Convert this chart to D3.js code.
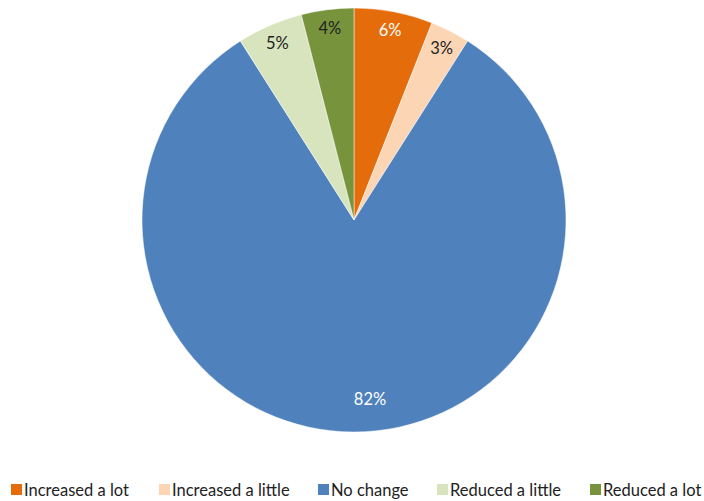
<!DOCTYPE html>
<html>
<head>
<meta charset="utf-8">
<script src="https://cdn.jsdelivr.net/npm/d3@7"></script>
<style>
  body { margin: 0; background: #fff; }
  text { font-family: Lato, "Open Sans", sans-serif; }
</style>
</head>
<body>
<div id="chart"></div>
<script>
// slice data, clockwise from 12 o'clock
const categories = ["Increased a lot", "Increased a little", "No change", "Reduced a little", "Reduced a lot"]
const values = [6, 3, 82, 5, 4]
const colors = ["#E46C0A", "#FCD5B5", "#4F81BD", "#D7E4BD", "#77933C"]
const labelColors = ["#fff", "#222", "#fff", "#222", "#222"]

const width = 704, height = 501
const cx = 354, cy = 220, radius = 212

let svg = d3.select("#chart").append("svg")
    .attr("width", width)
    .attr("height", height)

let pie = d3.pie().sort(null).value(d => d)
let arcs = pie(values)

let arc = d3.arc().innerRadius(0).outerRadius(radius)
let labelArc = d3.arc().innerRadius(193).outerRadius(193)

let g = svg.append("g").attr("transform", `translate(${cx},${cy})`)

g.selectAll("path.slice")
    .data(arcs)
    .join("path")
    .attr("class", "slice")
    .attr("d", arc)
    .attr("fill", (d, i) => colors[i])
    .attr("stroke", "#fff")
    .attr("stroke-width", 0.5)

g.selectAll("text.lbl")
    .data(arcs)
    .join("text")
    .attr("class", "lbl")
    .attr("transform", d => {
        let [x, y] = labelArc.centroid(d)
        // the big slice label sits a little right/up, like the original
        if (d.value > 50) { x += 16; y -= 14 }
        return `translate(${x},${y})`
    })
    .attr("text-anchor", "middle")
    .attr("dy", "0.35em")
    .attr("font-size", "16.5px")
    .attr("fill", (d, i) => labelColors[i])
    .text(d => d.value + "%")

// legend
let legendX = [11, 159, 318, 437, 590]
let legend = svg.append("g").attr("transform", "translate(0,484)")
let items = legend.selectAll("g")
    .data(categories)
    .join("g")
    .attr("transform", (d, i) => `translate(${legendX[i]},0)`)
items.append("rect")
    .attr("width", 11).attr("height", 11)
    .attr("y", 0)
    .attr("fill", (d, i) => colors[i])
items.append("text")
    .attr("x", 13)
    .attr("y", 11.5)
    .attr("font-size", "16.5px")
    .attr("fill", "#222")
    .text(d => d)
</script>
</body>
</html>
